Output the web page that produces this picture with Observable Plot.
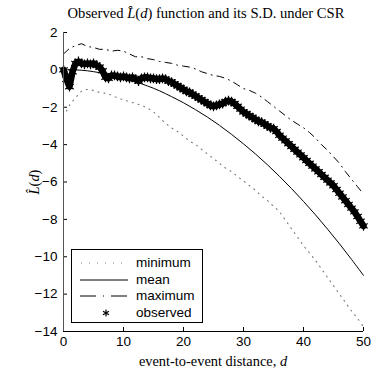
<!DOCTYPE html>
<html><head><meta charset="utf-8">
<script src="https://cdn.jsdelivr.net/npm/d3@7"></script>
<script src="https://cdn.jsdelivr.net/npm/@observablehq/plot@0.6"></script>
<style>
body{margin:0;background:#fff;}
#wrap{position:relative;width:371px;height:369px;overflow:hidden;background:#fff;}
.serif{font-family:"Liberation Serif","DejaVu Serif",serif;color:#000;position:absolute;white-space:nowrap;line-height:1;}
#title{top:6px;left:206px;transform:translateX(-50%);font-size:14.6px;}
#xlabel{top:354px;left:213px;transform:translateX(-50%);font-size:14.4px;}
#ylabel{top:182px;left:34px;transform:translate(-50%,-50%) rotate(-90deg);font-size:14.4px;}
#legend{position:absolute;left:71px;top:249px;width:130px;height:72px;border:1px solid #000;background:#fff;font-family:"Liberation Sans",Arial,sans-serif;font-size:13.5px;}
.row{position:absolute;left:0;height:16px;width:130px;}
.row svg{position:absolute;left:8px;top:0;}
.row span{position:absolute;left:64px;top:0;line-height:16px;}
</style>
</head><body>
<div id="wrap">
  <div id="chart"></div>
  <div id="title" class="serif">Observed <i>L̂</i>(<i>d</i>) function and its S.D. under CSR</div>
  <div id="ylabel" class="serif"><i>L̂</i>(<i>d</i>)</div>
  <div id="xlabel" class="serif">event-to-event distance, <i>d</i></div>
  <div id="legend"></div>
</div>
<script>
// ---- data ----
const obsD = d3.range(0, 50.001, 0.5);
const obsL = [0.0,-0.5,-0.9,-0.1,0.35,0.45,0.35,0.3,0.35,0.3,0.35,0.25,0.15,-0.05,-0.4,-0.45,-0.3,-0.3,-0.35,-0.4,
  -0.35,-0.4,-0.45,-0.4,-0.5,-0.6,-0.45,-0.4,-0.4,-0.45,-0.45,-0.5,-0.5,-0.45,-0.5,-0.6,-0.65,-0.75,-0.85,-0.95,
  -1.05,-1.15,-1.2,-1.3,-1.4,-1.5,-1.6,-1.7,-1.8,-1.9,-1.95,-1.9,-1.85,-1.8,-1.7,-1.65,-1.7,-1.8,-1.95,-2.1,
  -2.25,-2.35,-2.45,-2.55,-2.65,-2.75,-2.8,-2.9,-3.0,-3.1,-3.15,-3.3,-3.5,-3.65,-3.8,-3.95,-4.1,-4.25,-4.4,-4.55,
  -4.7,-4.85,-5.0,-5.15,-5.3,-5.45,-5.6,-5.75,-5.9,-6.05,-6.2,-6.4,-6.6,-6.8,-7.0,-7.2,-7.4,-7.6,-7.85,-8.1,-8.35];

const maxD = d3.range(0, 51, 1);
const maxL = [0.85,1.15,1.3,1.4,1.25,1.2,1.1,1.1,1.0,1.05,1.0,0.85,0.7,0.7,0.6,0.55,0.45,0.4,0.35,0.25,
  0.2,0.15,0.05,-0.1,-0.2,-0.3,-0.35,-0.45,-0.6,-0.8,-1.0,-1.1,-1.25,-1.45,-1.7,-1.95,-2.2,-2.45,-2.7,-2.9,
  -3.1,-3.35,-3.65,-4.0,-4.3,-4.65,-5.0,-5.45,-5.85,-6.25,-6.65];

const minD = [0.5].concat(d3.range(1, 51, 1));
const minL = [-2.2,-1.9,-1.5,-1.15,-1.05,-1.1,-1.2,-1.25,-1.35,-1.5,-1.6,-1.7,-1.8,-1.9,-2.05,-2.25,-2.55,-2.85,-3.1,-3.3,
  -3.55,-3.8,-4.0,-4.25,-4.5,-4.75,-5.0,-5.25,-5.45,-5.7,-5.95,-6.2,-6.45,-6.75,-7.0,-7.3,-7.6,-8.05,-8.5,-8.95,
  -9.4,-9.8,-10.2,-10.65,-11.1,-11.55,-12.0,-12.45,-12.9,-13.3,-13.75];

const meanD = d3.range(0, 51, 2);
const meanL = [0,0,-0.05,-0.15,-0.28,-0.44,-0.63,-0.86,-1.12,-1.43,-1.76,-2.13,-2.53,-2.97,-3.45,-3.96,-4.5,-5.08,-5.7,-6.35,-7.04,-7.76,-8.52,-9.31,-10.14,-11.0];

const xTicks = [0,10,20,30,40,50];
const yTicks = [2,0,-2,-4,-6,-8,-10,-12,-14];

const series = {
  minimum: minD.map((d,i)=>({d, L:minL[i]})),
  mean: meanD.map((d,i)=>({d, L:meanL[i]})),
  maximum: maxD.map((d,i)=>({d, L:maxL[i]})),
  observed: obsD.map((d,i)=>({d, L:obsL[i]}))
};
const fmt = v => v < 0 ? "\u2212" + (-v) : String(v);

const chart = Plot.plot({
  width: 371, height: 369,
  marginLeft: 63, marginRight: 8, marginTop: 32, marginBottom: 38,
  style: {fontFamily: "'Liberation Sans', Arial, sans-serif", fontSize: "13.5px", color: "#000", background: "#fff"},
  x: {domain: [0, 50], ticks: xTicks, tickFormat: fmt, tickSize: -4, tickPadding: 9, label: null},
  y: {domain: [-14, 2], ticks: yTicks, tickFormat: fmt, tickSize: -4, tickPadding: 10, label: null},
  marks: [
    Plot.line(series.minimum, {x: "d", y: "L", stroke: "#777", strokeWidth: 1.1, strokeDasharray: "1,5", curve: "catmull-rom"}),
    Plot.line(series.mean, {x: "d", y: "L", stroke: "#000", strokeWidth: 1, curve: "catmull-rom"}),
    Plot.line(series.maximum, {x: "d", y: "L", stroke: "#000", strokeWidth: 1, strokeDasharray: "7,5,1,5"}),
    Plot.line(series.observed, {x: "d", y: "L", stroke: "#000", strokeWidth: 6.5, strokeLinejoin: "round"}),
    Plot.dot(series.observed, {x: "d", y: "L", symbol: "asterisk", r: 4.6, stroke: "#000", strokeWidth: 1.2}),
    Plot.ruleX([0], {stroke: "#555"}),
    Plot.ruleY([-14], {stroke: "#000"})
  ]
});
document.getElementById("chart").appendChild(chart);

// legend
const legendItems = [
  {name: "minimum", kind: "dot"},
  {name: "mean", kind: "solid"},
  {name: "maximum", kind: "dashdot"},
  {name: "observed", kind: "star"}
];
const rowTops = [5, 21.5, 38, 54.5];
const lg = document.getElementById("legend");
legendItems.forEach((it, i) => {
  const row = document.createElement("div");
  row.className = "row";
  row.style.top = rowTops[i] + "px";
  let g = "";
  if (it.kind === "dot") g = '<line x1="1" x2="48" y1="8" y2="8" stroke="#777" stroke-width="1.1" stroke-dasharray="1,7"/>';
  if (it.kind === "solid") g = '<line x1="0" x2="48" y1="8" y2="8" stroke="#000" stroke-width="1"/>';
  if (it.kind === "dashdot") g = '<line x1="0" x2="48" y1="8" y2="8" stroke="#000" stroke-width="1" stroke-dasharray="16,7,1,7"/>';
  if (it.kind === "star") g = '<path transform="translate(26,8)" d="M0,-3.5V3.5M-3,-1.75L3,1.75M-3,1.75L3,-1.75" stroke="#000" stroke-width="1.2"/>';
  row.innerHTML = '<svg width="50" height="16">' + g + '</svg><span>' + it.name + '</span>';
  lg.appendChild(row);
});
</script>
</body></html>
